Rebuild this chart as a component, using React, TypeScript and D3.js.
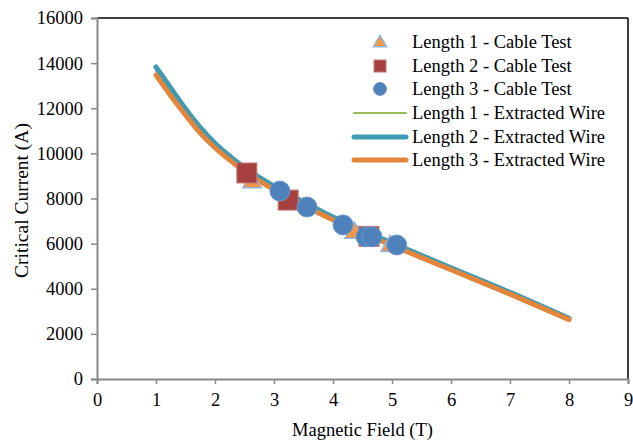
import * as d3 from "d3";
import { useEffect, useRef } from "react";

const xTicks = [0, 1, 2, 3, 4, 5, 6, 7, 8, 9];
const yTicks = [0, 2000, 4000, 6000, 8000, 10000, 12000, 14000, 16000];

// cable test points [field, current]
const cable1 = [[2.63, 8800], [4.36, 6560], [4.97, 5980]];
const cable2 = [[2.54, 9130], [3.24, 7930], [4.61, 6320]];
const cable3 = [[3.1, 8330], [3.56, 7620], [4.17, 6830], [4.56, 6300], [4.66, 6300], [5.08, 5940]];

// extracted wire curves
const wireField = [1, 1.25, 1.5, 1.75, 2, 2.25, 2.5, 3, 3.5, 4, 4.5, 5, 6, 7, 8];
const wire1 = [13650, 12750, 11850, 11050, 10350, 9800, 9300, 8480, 7780, 7120, 6530, 5980, 4890, 3800, 2670];
const wire2 = [13830, 12900, 11980, 11150, 10450, 9880, 9370, 8550, 7850, 7180, 6580, 6030, 4930, 3840, 2690];
const wire3 = [13470, 12550, 11700, 10900, 10250, 9700, 9200, 8400, 7700, 7050, 6470, 5920, 4840, 3760, 2630];

const seriesNames = [
  "Length 1 - Cable Test",
  "Length 2 - Cable Test",
  "Length 3 - Cable Test",
  "Length 1 - Extracted Wire",
  "Length 2 - Extracted Wire",
  "Length 3 - Extracted Wire",
];

const font = "'Liberation Serif', 'Times New Roman', serif";
const fs = 18.5;

const App = () => {
  const ref = useRef<SVGSVGElement>(null);

  useEffect(() => {
    const svg = d3.select(ref.current);
    svg.selectAll("*").remove();

    const x = d3.scaleLinear().domain([0, 9]).range([97, 628]);
    const y = d3.scaleLinear().domain([0, 16000]).range([379, 18]);

    // frame
    svg.append("line").attr("x1", 97).attr("x2", 628).attr("y1", 18).attr("y2", 18)
      .attr("stroke", "#000").attr("stroke-width", 1.5);
    svg.append("line").attr("x1", 628).attr("x2", 628).attr("y1", 18).attr("y2", 379)
      .attr("stroke", "#000").attr("stroke-width", 1.5);

    const yAxis = svg.append("g")
      .attr("transform", "translate(97,0)")
      .call(d3.axisLeft(y).tickValues(yTicks).tickSize(6).tickPadding(8).tickFormat(d3.format("d")));
    const xAxis = svg.append("g")
      .attr("transform", "translate(0,379)")
      .call(d3.axisBottom(x).tickValues(xTicks).tickSize(5).tickPadding(9).tickFormat(d3.format("d")));
    [xAxis, yAxis].forEach(a => {
      a.select(".domain").attr("stroke", "#888").attr("stroke-width", 2);
      a.selectAll(".tick line").attr("stroke", "#888").attr("stroke-width", 1.5);
      a.selectAll("text").attr("font-family", font).attr("font-size", fs).attr("fill", "#000");
    });

    svg.append("text")
      .attr("x", x(4.5)).attr("y", 436)
      .attr("text-anchor", "middle").attr("font-family", font).attr("font-size", fs)
      .text("Magnetic Field (T)");
    svg.append("text")
      .attr("transform", `translate(28,${y(8000) + 2}) rotate(-90)`)
      .attr("text-anchor", "middle").attr("font-family", font).attr("font-size", 19.5)
      .text("Critical Current (A)");

    const line = d3.line<number>()
      .x((d, i) => x(wireField[i]))
      .y(d => y(d))
      .curve(d3.curveMonotoneX);

    const wires = [
      { data: wire1, color: "#9BBB59", width: 2 },
      { data: wire2, color: "#3E9BB2", width: 5 },
      { data: wire3, color: "#E3853A", width: 5 },
    ];
    wires.forEach(w => {
      svg.append("path").attr("d", line(w.data))
        .attr("fill", "none").attr("stroke", w.color)
        .attr("stroke-width", w.width).attr("stroke-linecap", "round");
    });

    const tri = (s: number) => d3.symbol().type(d3.symbolTriangle).size(s)();

    svg.append("g").selectAll("path").data(cable1).enter().append("path")
      .attr("d", tri(150))
      .attr("transform", d => `translate(${x(d[0])},${y(d[1]) + 2})`)
      .attr("fill", "#F79646").attr("stroke", "#95B3D7").attr("stroke-width", 1.5);

    svg.append("g").selectAll("rect").data(cable2).enter().append("rect")
      .attr("x", d => x(d[0]) - 10).attr("y", d => y(d[1]) - 10)
      .attr("width", 20).attr("height", 20)
      .attr("fill", "#A5403F").attr("stroke", "#C47A78").attr("stroke-width", 1);

    svg.append("g").selectAll("circle").data(cable3).enter().append("circle")
      .attr("cx", d => x(d[0])).attr("cy", d => y(d[1])).attr("r", 10)
      .attr("fill", "#4F81BD").attr("stroke", "#6F97C9").attr("stroke-width", 1);

    // legend
    const leg = svg.append("g");
    const rowY = [42, 66, 89, 113, 137, 160];
    seriesNames.forEach((name, i) => {
      const cy = rowY[i];
      if (i === 0) {
        leg.append("path").attr("d", tri(75)).attr("transform", `translate(380,${cy + 1})`)
          .attr("fill", "#F79646").attr("stroke", "#95B3D7").attr("stroke-width", 1.5);
      } else if (i === 1) {
        leg.append("rect").attr("x", 374).attr("y", cy - 6).attr("width", 12).attr("height", 12)
          .attr("fill", "#A5403F").attr("stroke", "#C47A78");
      } else if (i === 2) {
        leg.append("circle").attr("cx", 380).attr("cy", cy).attr("r", 6.5)
          .attr("fill", "#4F81BD").attr("stroke", "#6F97C9");
      } else {
        const w = wires[i - 3];
        leg.append("line").attr("x1", 354).attr("x2", 406).attr("y1", cy).attr("y2", cy)
          .attr("stroke", w.color).attr("stroke-width", w.width).attr("stroke-linecap", "round");
      }
      leg.append("text").attr("x", 412).attr("y", cy + 6)
        .attr("font-family", font).attr("font-size", fs).text(name);
    });
  }, []);

  return (
    <svg ref={ref} width={633} height={440}
      style={{ position: "absolute", left: 0, top: 0, background: "#fff" }} />
  );
};

export default App;
